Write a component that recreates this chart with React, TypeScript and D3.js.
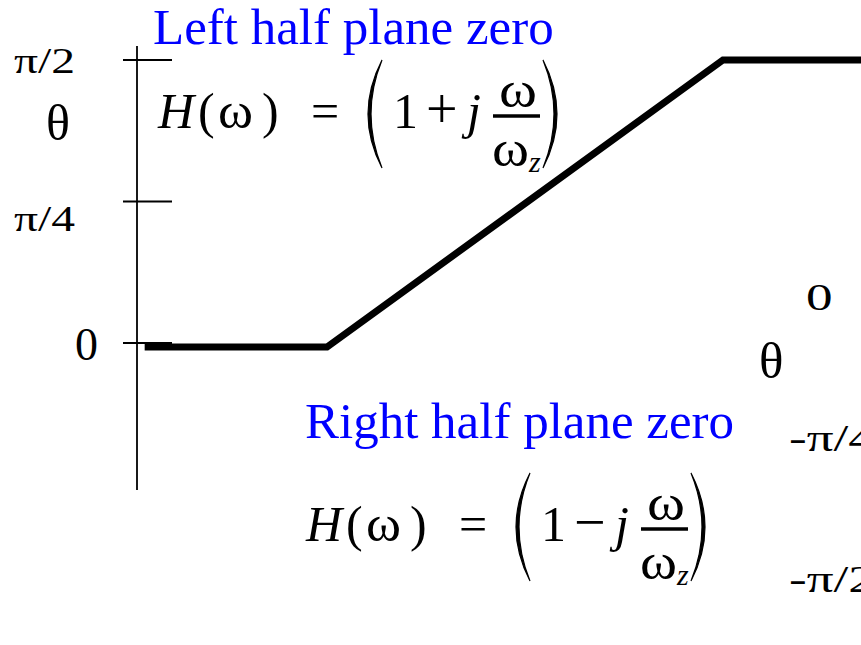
import { useEffect, useRef } from 'react';
import * as d3 from 'd3';

// normalised frequency ω/ωz and asymptotic phase (degrees) of the LHP zero
const freq = [0.012, 0.1, 10, 60];
const phase = [0, 0, 90, 90];

const leftTickValues = [90, 45, 0];
const leftTickLabels = ['π/2', 'π/4', '0'];
const rightTickValues = [0, -45, -90];
const rightTickLabels = ['0', '-π/4', '-π/2'];

const titles = ['Left half plane zero', 'Right half plane zero'];
const signs = ['+', '−'];

const WIDTH = 861;
const HEIGHT = 645;
const SERIF = '"Liberation Serif", "Times New Roman", serif';

function drawFormula(g: any, x0: number, y0: number, sign: string) {
  const f = g.append('g')
    .attr('transform', 'translate(' + x0 + ',' + y0 + ')')
    .attr('font-family', SERIF)
    .attr('font-size', 50)
    .attr('fill', '#000');

  f.append('text').attr('x', 0).attr('font-style', 'italic').text('H');
  f.append('text').attr('x', 40).text('(');
  f.append('text').attr('x', 60).attr('textLength', 35).attr('lengthAdjust', 'spacingAndGlyphs').text('ω');
  f.append('text').attr('x', 104).text(')');
  f.append('text').attr('x', 153).text('=');
  f.append('text').attr('x', 235).text('1');
  f.append('text').attr('x', 268).attr('font-size', 56).text(sign);
  f.append('text').attr('x', 309).attr('font-style', 'italic').text('j');
  f.append('text').attr('x', 341).attr('y', -21)
    .attr('textLength', 38).attr('lengthAdjust', 'spacingAndGlyphs').text('ω');
  f.append('line')
    .attr('x1', 335).attr('x2', 382)
    .attr('y1', -12).attr('y2', -12)
    .attr('stroke', '#000').attr('stroke-width', 3.5);
  f.append('text').attr('x', 334).attr('y', 38)
    .attr('textLength', 37).attr('lengthAdjust', 'spacingAndGlyphs').text('ω');
  f.append('text').attr('x', 371).attr('y', 44)
    .attr('font-size', 30).attr('font-style', 'italic').text('z');

  // tall brackets
  const top = -68, bot = 40, mid = (top + bot) / 2;
  const lx = 209, rx = 385;
  f.append('path')
    .attr('d', `M${lx + 15},${top} Q${lx - 13},${mid} ${lx + 15},${bot} Q${lx - 7},${mid} ${lx + 15},${top} Z`)
    .attr('fill', '#000').attr('stroke', '#000').attr('stroke-width', 1.2);
  f.append('path')
    .attr('d', `M${rx},${top} Q${rx + 28},${mid} ${rx},${bot} Q${rx + 22},${mid} ${rx},${top} Z`)
    .attr('fill', '#000').attr('stroke', '#000').attr('stroke-width', 1.2);
}

export default function App() {
  const ref = useRef<SVGSVGElement>(null);

  useEffect(() => {
    const svg = d3.select(ref.current);
    svg.selectAll('*').remove();

    const x = d3.scaleLog().domain([0.1, 10]).range([327, 723]);
    const yTick = d3.scaleLinear().domain([0, 90]).range([343, 60]);
    const yLine = d3.scaleLinear().domain([0, 90]).range([347, 60]);
    const yRight = d3.scaleLinear().domain([0, -90]).range([310, 592]);

    // vertical axis
    svg.append('line')
      .attr('x1', 137).attr('x2', 137)
      .attr('y1', 46).attr('y2', 490)
      .attr('stroke', '#000').attr('stroke-width', 1.8);

    svg.append('g')
      .selectAll('line')
      .data(leftTickValues)
      .enter()
      .append('line')
      .attr('x1', 123).attr('x2', 172)
      .attr('y1', (d: number) => yTick(d))
      .attr('y2', (d: number) => yTick(d))
      .attr('stroke', '#000').attr('stroke-width', 1.8);

    // tick labels sit a little below their ticks, π/4 more so
    const labelDy: Record<string, number> = { 'π/2': 13, 'π/4': 29, '0': 17 };
    svg.append('g')
      .selectAll('text')
      .data(leftTickValues)
      .enter()
      .append('text')
      .attr('transform', (d: number, i: number) => {
        const lab = leftTickLabels[i];
        const ty = yTick(d) + labelDy[lab];
        return lab === '0'
          ? 'translate(75,' + ty + ')'
          : 'translate(14,' + ty + ') scale(1.36,1)';
      })
      .attr('font-family', SERIF)
      .attr('font-size', (d: number, i: number) => (leftTickLabels[i] === '0' ? 46 : 35))
      .text((d: number, i: number) => leftTickLabels[i]);

    svg.append('text')
      .attr('x', 46).attr('y', 140)
      .attr('font-family', SERIF).attr('font-size', 50)
      .text('θ');

    // phase asymptote
    const pts = freq.map((f, i) => [x(f), yLine(phase[i])] as [number, number]);
    svg.append('path')
      .attr('d', d3.line()(pts))
      .attr('fill', 'none')
      .attr('stroke', '#000')
      .attr('stroke-width', 7)
      .attr('stroke-linejoin', 'miter');

    // clipped labels of the second (RHP) phase axis
    svg.append('g')
      .selectAll('text')
      .data(rightTickValues)
      .enter()
      .append('text')
      .attr('transform', (d: number) =>
        'translate(' + (d === 0 ? 806 : 789) + ',' + yRight(d) + ') scale(1.4,1)')
      .attr('font-family', SERIF)
      .attr('font-size', 38)
      .text((d: number, i: number) => rightTickLabels[i]);

    svg.append('text')
      .attr('x', 759).attr('y', 378)
      .attr('font-family', SERIF).attr('font-size', 51)
      .text('θ');

    // titles
    svg.append('text')
      .attr('x', 153).attr('y', 44)
      .attr('font-family', SERIF).attr('font-size', 51)
      .attr('fill', '#0000ff')
      .text(titles[0]);
    svg.append('text')
      .attr('x', 305).attr('y', 438)
      .attr('font-family', SERIF).attr('font-size', 51)
      .attr('fill', '#0000ff')
      .text(titles[1]);

    drawFormula(svg, 158, 128, signs[0]);
    drawFormula(svg, 306, 541, signs[1]);
  }, []);

  return (
    <svg
      ref={ref}
      width={WIDTH}
      height={HEIGHT}
      style={{ position: 'absolute', left: 0, top: 0, background: '#fff' }}
    />
  );
}
